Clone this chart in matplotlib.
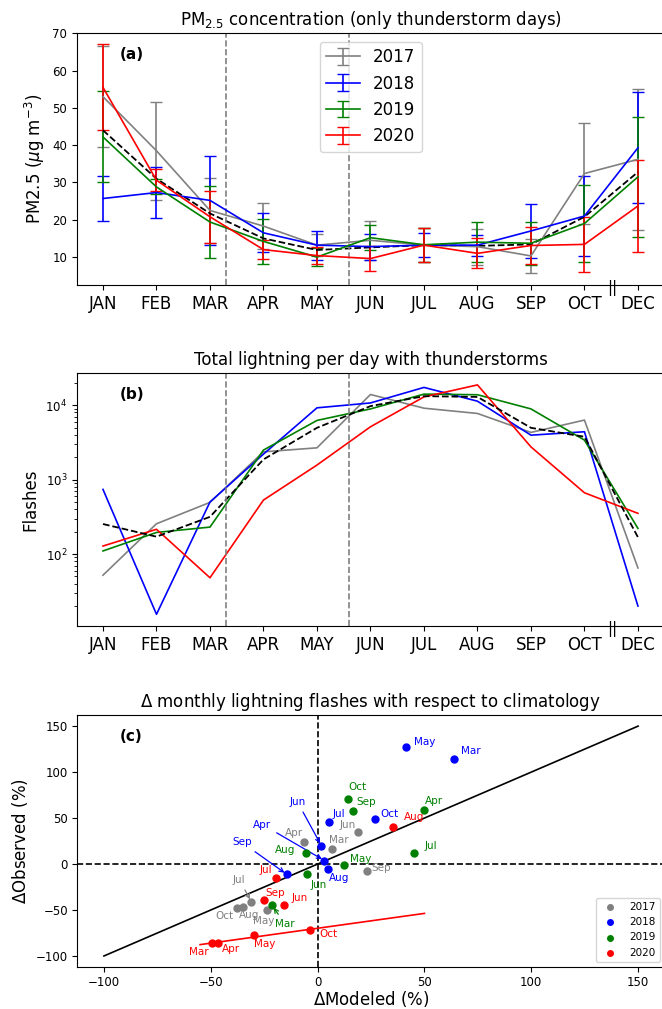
import numpy as np
import matplotlib
matplotlib.use('Agg')
import matplotlib.pyplot as plt
import matplotlib.transforms as mtransforms

# ---------------- data ----------------
months = ['JAN', 'FEB', 'MAR', 'APR', 'MAY', 'JUN', 'JUL', 'AUG', 'SEP', 'OCT', 'DEC']
years = ['2017', '2018', '2019', '2020']
colors = ['gray', 'blue', 'green', 'red']

# (a) PM2.5 on thunderstorm days, mean and spread
pm_2017 = [53.0, 38.5, 22.5, 18.3, 13.2, 14.5, 13.2, 12.8, 10.3, 32.4, 36.2]
err_2017 = [13.5, 13.2, 8.7, 6.2, 3.0, 5.3, 4.5, 4.8, 4.5, 13.6, 18.9]
pm_2018 = [25.7, 27.3, 25.2, 16.5, 13.2, 12.8, 13.2, 13.2, 17.0, 21.0, 39.3]
err_2018 = [6.0, 6.8, 11.9, 5.2, 3.9, 3.5, 3.2, 2.8, 7.3, 10.8, 14.9]
pm_2019 = [42.2, 28.8, 19.4, 14.2, 10.0, 15.2, 13.3, 14.0, 13.7, 19.0, 31.5]
err_2019 = [12.2, 2.0, 9.6, 6.1, 2.5, 3.3, 4.5, 5.4, 5.7, 10.2, 16.0]
pm_2020 = [55.5, 30.6, 20.8, 12.0, 10.4, 9.6, 13.2, 11.0, 13.1, 13.4, 23.7]
err_2020 = [11.5, 2.9, 7.0, 2.6, 2.2, 3.3, 4.5, 4.0, 5.0, 7.3, 12.4]
pm_mean = [44.0, 31.0, 21.7, 15.0, 11.9, 12.6, 13.2, 13.0, 13.4, 20.8, 32.8]

# (b) total flashes per thunderstorm day
fl_2017 = [52, 255, 494, 2360, 2670, 13900, 9100, 7730, 4300, 6300, 65]
fl_2018 = [738, 15.5, 500, 2200, 9200, 10700, 17300, 11300, 3950, 4390, 20]
fl_2019 = [110, 195, 230, 2490, 6230, 8900, 14060, 13800, 8900, 3390, 221]
fl_2020 = [128, 215, 48, 531, 1567, 5120, 12900, 18700, 2750, 665, 352]
fl_mean = [253, 171, 316, 1866, 4960, 9700, 13200, 12900, 4960, 3760, 168]

# (c) delta modeled / observed flashes (%)
c_months = ['Mar', 'Apr', 'May', 'Jun', 'Jul', 'Aug', 'Sep', 'Oct']
dmod_2017 = [6.7, -6.2, -23.6, 19.0, -31.0, -34.8, 22.9, -37.6]
dobs_2017 = [16.3, 23.5, -49.6, 35.1, -41.0, -47.1, -7.8, -47.5]
dmod_2018 = [63.9, 3.2, 41.2, 1.8, 5.4, 5.0, -14.4, 27.0]
dobs_2018 = [114.5, 3.8, 127.2, 19.8, 45.3, -5.6, -11.2, 48.6]
dmod_2019 = [-21.3, 49.7, 12.3, -5.0, 45.2, -5.2, 16.7, 14.3]
dobs_2019 = [-44.9, 58.7, -1.3, -10.7, 11.6, 11.6, 58.0, 70.7]
dmod_2020 = [-49.3, -46.8, -29.8, -15.7, -19.5, 35.4, -25.2, -3.6]
dobs_2020 = [-86.2, -86.2, -76.8, -44.6, -15.6, 40.2, -39.1, -72.1]
fit_months_2020 = ['Mar', 'Apr', 'May', 'Oct']

# label placement (pixel offsets from the point), arrows where labels were moved
label_offsets = {
    ('2017', 'Mar'): (7, 9), ('2017', 'Apr'): (-10, 9), ('2017', 'May'): (-3, -11),
    ('2017', 'Jun'): (-11, 7), ('2017', 'Jul'): (-12, 22), ('2017', 'Aug'): (6, -8),
    ('2017', 'Sep'): (15, 3), ('2017', 'Oct'): (-13, -8),
    ('2018', 'Mar'): (17, 8), ('2018', 'Apr'): (-62, 36), ('2018', 'May'): (19, 5),
    ('2018', 'Jun'): (-24, 44), ('2018', 'Jul'): (10, 8), ('2018', 'Aug'): (11, -9),
    ('2018', 'Sep'): (-45, 32), ('2018', 'Oct'): (14, 5),
    ('2019', 'Mar'): (13, -19), ('2019', 'Apr'): (10, 9), ('2019', 'May'): (17, 6),
    ('2019', 'Jun'): (12, -11), ('2019', 'Jul'): (17, 7), ('2019', 'Aug'): (-21, 3),
    ('2019', 'Sep'): (13, 9), ('2019', 'Oct'): (9, 12),
    ('2020', 'Mar'): (-13, -9), ('2020', 'Apr'): (13, -6), ('2020', 'May'): (11, -9),
    ('2020', 'Jun'): (16, 7), ('2020', 'Jul'): (-10, 8), ('2020', 'Aug'): (21, 10),
    ('2020', 'Sep'): (11, 7), ('2020', 'Oct'): (19, -4),
}
arrow_labels = [('2017', 'Jul'), ('2018', 'Apr'), ('2018', 'Jun'), ('2018', 'Sep'),
                ('2019', 'Mar')]

# ---------------- figure ----------------
fig = plt.figure(figsize=(6.62, 10.09), dpi=100)
ax1 = fig.add_axes([0.1163, 0.7175, 0.888, 0.2495])
ax2 = fig.add_axes([0.1163, 0.3796, 0.888, 0.2507])
ax3 = fig.add_axes([0.1163, 0.0416, 0.888, 0.2497])

x = np.arange(len(months))
lockdown = [2.3, 4.6]


def month_axis(ax):
    ax.set_xticks(x)
    ax.set_xticklabels(months)
    ax.tick_params(axis='x', labelsize=12)
    ax.tick_params(axis='y', labelsize=8.5)
    ax.set_xlim(-0.486, 10.503)
    for xv in lockdown:
        ax.axvline(xv, color='gray', ls='--', lw=1.2)
    trans = mtransforms.blended_transform_factory(ax.transData, ax.transAxes)
    ax.text(9.52, -0.012, '||', transform=trans, ha='center', va='center',
            fontsize=11, clip_on=False)


# (a)
pm = [pm_2017, pm_2018, pm_2019, pm_2020]
errs = [err_2017, err_2018, err_2019, err_2020]
for yr, c, v, e in zip(years, colors, pm, errs):
    ax1.errorbar(x, v, yerr=e, color=c, capsize=4, lw=1.2, label=yr)
ax1.plot(x, pm_mean, 'k--', lw=1.3)
month_axis(ax1)
ax1.set_ylim(2.5, 70)
ax1.set_ylabel(r'PM2.5 ($\mu$g m$^{-3}$)', fontsize=12)
ax1.set_title(r'PM$_{2.5}$ concentration (only thunderstorm days)', fontsize=12)
ax1.legend(loc='upper center', fontsize=12)
ax1.text(0.072, 0.945, '(a)', transform=ax1.transAxes, fontsize=11,
         fontweight='bold', va='top')

# (b)
fl = [fl_2017, fl_2018, fl_2019, fl_2020]
for yr, c, v in zip(years, colors, fl):
    ax2.plot(x, v, color=c, lw=1.2, label=yr)
ax2.plot(x, fl_mean, 'k--', lw=1.3)
ax2.set_yscale('log')
month_axis(ax2)
ax2.set_ylim(10.8, 27000)
ax2.set_ylabel('Flashes', fontsize=12)
ax2.set_title('Total lightning per day with thunderstorms', fontsize=12)
ax2.text(0.072, 0.945, '(b)', transform=ax2.transAxes, fontsize=11,
         fontweight='bold', va='top')

# (c)
dmod = [dmod_2017, dmod_2018, dmod_2019, dmod_2020]
dobs = [dobs_2017, dobs_2018, dobs_2019, dobs_2020]
ax3.axhline(0, color='k', ls='--', lw=1.2)
ax3.axvline(0, color='k', ls='--', lw=1.2)
ax3.plot([-100, 150], [-100, 150], color='k', lw=1.2)

idx = [c_months.index(m) for m in fit_months_2020]
p = np.polyfit(np.array(dmod_2020)[idx], np.array(dobs_2020)[idx], 1)
xf = np.array([-55, 50])
ax3.plot(xf, np.polyval(p, xf), color='red', lw=1.2)

for yr, c, xs, ys in zip(years, colors, dmod, dobs):
    ax3.scatter(xs, ys, color=c, s=25, zorder=3, label=yr)
    for m, xv, yv in zip(c_months, xs, ys):
        off = label_offsets[(yr, m)]
        arrow = None
        if (yr, m) in arrow_labels:
            arrow = dict(arrowstyle='->', color=c, lw=0.9)
        ax3.annotate(m, (xv, yv), xytext=off, textcoords='offset pixels',
                     ha='center', va='center', fontsize=7.5, color=c,
                     arrowprops=arrow)

ax3.set_xlim(-112.6, 162.5)
ax3.set_ylim(-112, 162)
ax3.set_xticks([-100, -50, 0, 50, 100, 150])
ax3.set_yticks([-100, -50, 0, 50, 100, 150])
ax3.tick_params(labelsize=8.5, pad=3)
ax3.set_xlabel(r'$\Delta$Modeled (%)', fontsize=12, labelpad=0)
ax3.set_ylabel(r'$\Delta$Observed (%)', fontsize=12)
ax3.set_title(r'$\Delta$ monthly lightning flashes with respect to climatology',
              fontsize=12)
ax3.legend(loc='lower right', fontsize=7.5, markerscale=0.8)
ax3.text(0.072, 0.945, '(c)', transform=ax3.transAxes, fontsize=11,
         fontweight='bold', va='top')

plt.savefig('out.png', dpi=100)
